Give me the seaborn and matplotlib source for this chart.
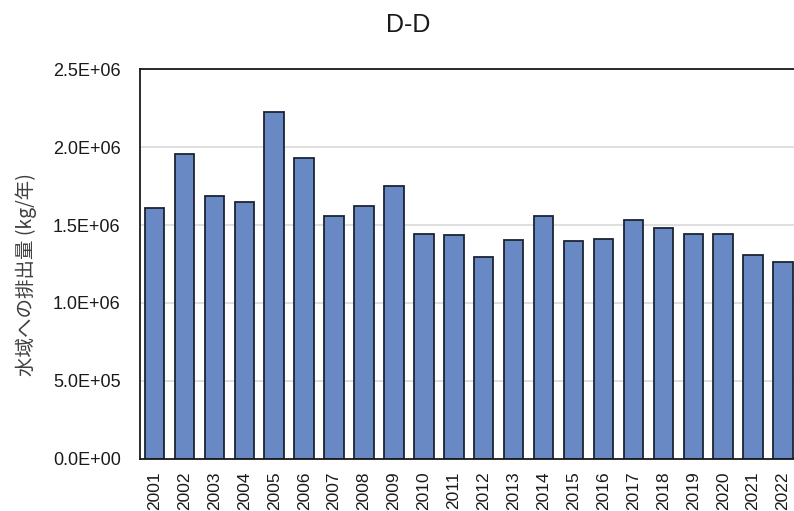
import matplotlib
matplotlib.use("Agg")
import matplotlib.pyplot as plt
import seaborn as sns
import pandas as pd
from matplotlib.ticker import FuncFormatter

years = [str(y) for y in range(2001, 2023)]
values = [1.61e6, 1.96e6, 1.69e6, 1.65e6, 2.23e6, 1.93e6, 1.56e6, 1.62e6,
          1.75e6, 1.443e6, 1.437e6, 1.295e6, 1.405e6, 1.559e6, 1.398e6,
          1.411e6, 1.534e6, 1.482e6, 1.443e6, 1.443e6, 1.308e6, 1.263e6]
title = "D-D"
ylabel = "水域への排出量 (kg/年)"
yticks = [0, 5e5, 1e6, 1.5e6, 2e6, 2.5e6]

sns.set_style("white")
plt.rcParams['font.family'] = ['Liberation Sans', 'Noto Sans CJK JP', 'DejaVu Sans']

df = pd.DataFrame({"year": years, "value": values})

fig = plt.figure(figsize=(7.94, 5.11), dpi=100)
ax = fig.add_axes([139.5 / 794, 1 - 458.5 / 511, (798 - 139.5) / 794, (458.5 - 69.5) / 511])
sns.barplot(data=df, x="year", y="value", color="#6989C4", saturation=1,
            edgecolor="#1c2433", linewidth=1.3, width=0.65, ax=ax)

ax.set_ylim(0, 2.5e6)
ax.set_xlim(-0.5, len(years) - 0.5)
ax.set_yticks(yticks)
ax.yaxis.set_major_formatter(FuncFormatter(lambda v, p: "{:.1E}".format(v)))
ax.grid(axis="y", color="#d9d9d9", linewidth=1.2)
ax.set_axisbelow(True)
ax.tick_params(axis="y", length=0, pad=13.5, labelsize=13, labelcolor="#1a1a1a")
ax.tick_params(axis="x", length=0, pad=9, labelsize=12.5, labelcolor="#1a1a1a", rotation=90)
ax.set_xlabel("")
ax.set_ylabel("")
for s in ax.spines.values():
    s.set_color("#1a1a1a")
    s.set_linewidth(1.3)

fig.text(408 / 794, 1 - 25 / 511, title, ha="center", va="center", fontsize=18, color="#1a1a1a")
fig.text(26 / 794, 1 - 275 / 511, ylabel, ha="center", va="center", rotation=90,
         fontsize=14, color="#404040", family=['Noto Sans CJK JP', 'DejaVu Sans'])

fig.savefig("out.png", dpi=100)
